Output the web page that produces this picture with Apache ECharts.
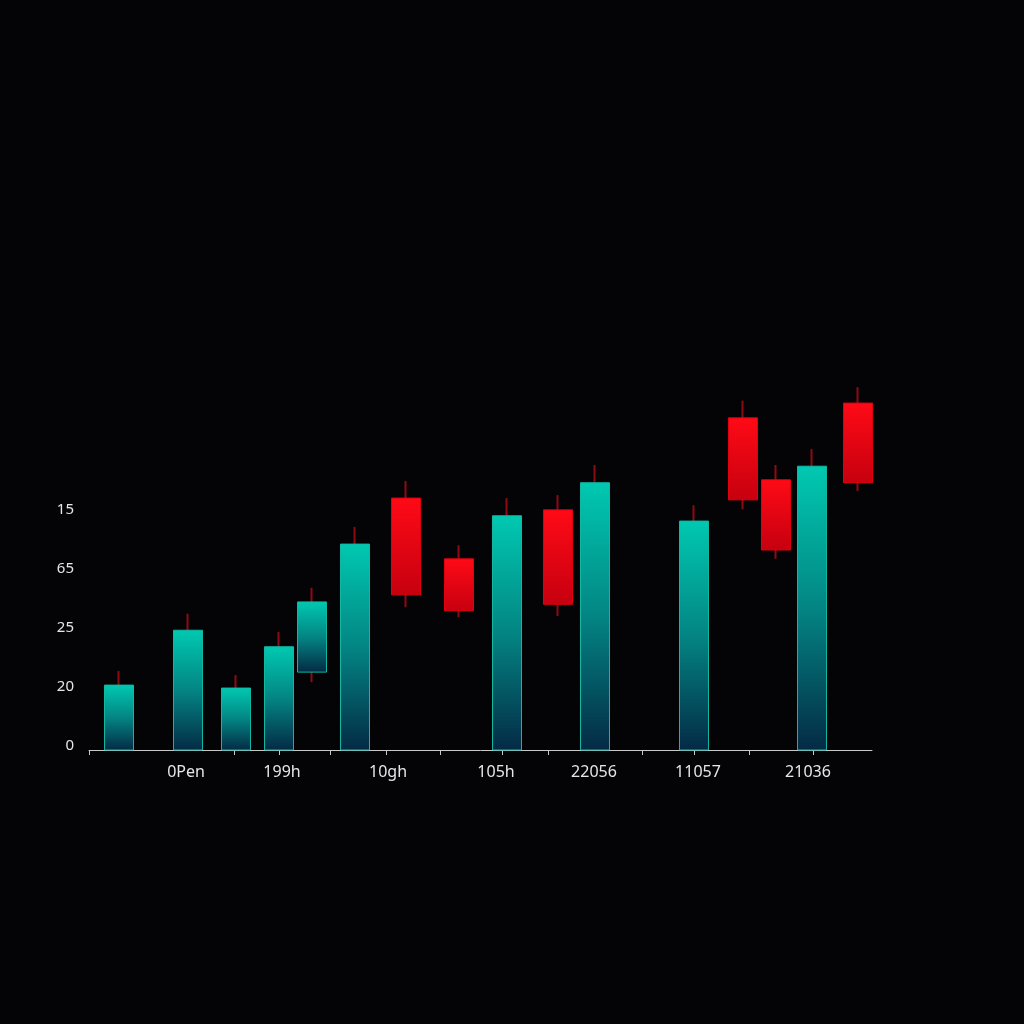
<!DOCTYPE html>
<html>
<head>
<meta charset="utf-8">
<script src="https://cdn.jsdelivr.net/npm/echarts@6/dist/echarts.min.js"></script>
<style>
html,body{margin:0;padding:0;background:#040406;}
#c{width:1024px;height:1024px;}
</style>
</head>
<body>
<div id="c"></div>
<script>
// Candle positions along the x axis
const xPos  = [3.0, 9.9, 14.7, 19.0, 22.3, 26.6, 31.7, 37.0, 41.8, 46.9, 50.6, 60.5, 65.4, 68.7, 72.3, 76.9];
const open  = [0, 0, 0, 0, 13.2, 0, 42.7, 32.4, 0, 40.7, 0, 0, 56.3, 45.8, 0, 58.8];
const close = [11.0, 20.3, 10.5, 17.5, 25.1, 34.9, 26.3, 23.6, 39.7, 24.7, 45.3, 38.8, 42.4, 33.9, 48.1, 45.3];
const low   = [0, 0, 0, 0, 11.5, 0, 24.2, 22.5, 0, 22.7, 0, 0, 40.8, 32.4, 0, 43.9];
const high  = [13.4, 23.1, 12.7, 20.0, 27.5, 37.8, 45.6, 34.7, 42.7, 43.2, 48.3, 41.5, 59.2, 48.3, 51.0, 61.5];

// Axis labels
const xLabelPos = [9.7, 19.3, 29.9, 40.7, 50.5, 60.9, 71.9];
const xLabels   = ['0Pen', '199h', '10gh', '105h', '22056', '11057', '21036'];
const xTickPos  = [0, 14.5, 19.0, 24.1, 29.7, 35.1, 41.3, 45.9, 55.3, 60.5, 66.0, 72.4];
const yLabelPos = [0, 10, 20, 30, 40];
const yLabels   = ['0', '20', '25', '65', '15'];

const wickData = xPos.map((x, i) => [x, open[i], close[i], low[i], high[i]]);
const bodyData = xPos.map((x, i) => [x, open[i], close[i], Math.min(open[i], close[i]), Math.max(open[i], close[i])]);

const G = echarts.graphic.LinearGradient;
const teal = new G(0, 0, 0, 1, [{offset: 0, color: '#00c9b1'}, {offset: 0.5, color: '#038583'}, {offset: 1, color: '#042a45'}]);
const red  = new G(0, 0, 0, 1, [{offset: 0, color: '#ff0a16'}, {offset: 1, color: '#c6000f'}]);

const chart = echarts.init(document.getElementById('c'), null, {renderer: 'canvas'});
chart.setOption({
  backgroundColor: '#040406',
  animation: false,
  grid: {left: 89, right: 152, top: 337, bottom: 274, containLabel: false},
  xAxis: {
    type: 'value', min: 0, max: 78.3,
    splitLine: {show: false},
    axisLine: {show: true, lineStyle: {color: '#c9c9c9', width: 1}},
    axisTick: {show: true, customValues: xTickPos, length: 5, lineStyle: {color: '#c9c9c9'}},
    axisLabel: {
      customValues: xLabelPos, margin: 14,
      color: '#e6e6e6', fontSize: 16, fontFamily: 'Noto Sans',
      formatter: v => { const i = xLabelPos.indexOf(v); return i >= 0 ? xLabels[i] : ''; }
    }
  },
  yAxis: {
    type: 'value', min: 0, max: 70, interval: 10,
    splitLine: {show: false},
    axisLine: {show: false},
    axisTick: {show: false},
    axisLabel: {
      customValues: yLabelPos, margin: 15,
      color: '#e6e6e6', fontSize: 15, fontFamily: 'Noto Sans',
      formatter: v => { const i = yLabelPos.indexOf(v); return i >= 0 ? '{a|' + yLabels[i] + '}' : ''; },
      rich: {a: {color: '#e6e6e6', fontSize: 15, fontFamily: 'Noto Sans', padding: [0, 0, 8, 0]}}
    }
  },
  series: [
    {
      type: 'candlestick', barWidth: 1, z: 2,
      data: wickData,
      itemStyle: {color: '#8e0b14', color0: '#8e0b14', borderColor: '#8e0b14', borderColor0: '#8e0b14', borderWidth: 2},
      emphasis: {disabled: true}
    },
    {
      type: 'candlestick', barWidth: 30, z: 3,
      data: bodyData,
      itemStyle: {color: teal, color0: red, borderColor: '#10b8a4', borderColor0: '#e0000f', borderWidth: 1},
      emphasis: {disabled: true}
    }
  ]
});
</script>
</body>
</html>
